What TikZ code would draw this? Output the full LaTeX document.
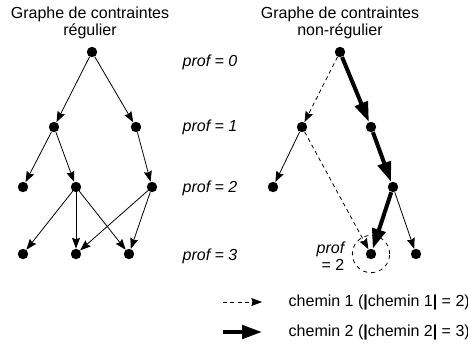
\documentclass[tikz,border=0pt]{standalone}
\usepackage{fontspec}
\setmainfont{Liberation Sans}
\usetikzlibrary{arrows.meta}
\definecolor{ink}{HTML}{000000}
\tikzset{
  vertex/.style={circle,fill=ink,minimum size=7.8pt,inner sep=0pt},
  edge/.style={-{Stealth[length=8pt,width=6pt,inset=1pt]},draw=ink,line width=.6pt},
  pathone/.style={edge,dash pattern=on 3pt off 2.5pt},
  pathtwo/.style={-{Triangle[length=15pt,width=10pt]},draw=ink,line width=3pt},
  title/.style={font=\fontsize{12}{13}\selectfont,align=center},
  depth/.style={font=\fontsize{12}{13}\selectfont\itshape},
  legend/.style={font=\fontsize{12}{14}\selectfont,anchor=west},
}

\begin{document}
\begin{tikzpicture}[x=0.75pt,y=-0.75pt]
\useasboundingbox (0,0) rectangle (468,344);
\node[title] (ttl) at (90,23) {Graphe de contraintes\\régulier};
\node[title] (ttr) at (340,23) {Graphe de contraintes\\non-régulier};
% regular graph
\node[vertex] (r) at (92,52) {};
\node[vertex] (a1) at (54,127) {};
\node[vertex] (a2) at (136,127) {};
\node[vertex] (b1) at (23,187) {};
\node[vertex] (b2) at (76,187) {};
\node[vertex] (b3) at (152,187) {};
\node[vertex] (c1) at (23,254) {};
\node[vertex] (c2) at (76,254) {};
\node[vertex] (c3) at (129,254) {};
\draw[edge] (r) -- (a1); \draw[edge] (r) -- (a2);
\draw[edge] (a1) -- (b1); \draw[edge] (a1) -- (b2); \draw[edge] (a2) -- (b3);
\draw[edge] (b2) -- (c1); \draw[edge] (b2) -- (c2); \draw[edge] (b2) -- (c3);
\draw[edge] (b3) -- (c2); \draw[edge] (b3) -- (c3);
% depth levels
\node[depth] (p0) at (210,62) {prof = 0};
\node[depth] (p1) at (210,127) {prof = 1};
\node[depth] (p2) at (210,188) {prof = 2};
\node[depth] (p3) at (210,256) {prof = 3};
% irregular graph
\node[vertex] (s) at (340,52) {};
\node[vertex] (u1) at (302,127) {};
\node[vertex] (u2) at (371,127) {};
\node[vertex] (v1) at (273,187) {};
\node[vertex] (v2) at (393,187) {};
\node[vertex] (w1) at (371,254) {};
\node[vertex] (w2) at (416,254) {};
\draw[pathone] (s) -- (u1); \draw[pathone] (u1) -- (w1);
\draw[pathtwo] (s) -- (u2); \draw[pathtwo] (u2) -- (v2); \draw[pathtwo] (v2) -- (w1);
\draw[edge] (u1) -- (v1); \draw[edge] (v2) -- (w2);
\node[circle,draw=ink,dashed,line width=.6pt,minimum size=28pt,inner sep=0pt] (ring) at (w1) {};
\node[depth,align=right,anchor=east] (note) at (349,256) {prof\\\upshape = 2};
% legend
\coordinate (la) at (223,302); \coordinate (lb) at (262,302);
\coordinate (lc) at (223,332); \coordinate (ld) at (262,332);
\draw[pathone] (la) -- (lb);
\draw[pathtwo] (lc) -- (ld);
\node[legend] (t1) at (284,302) {chemin 1 (\textbf{|}chemin 1\textbf{|} = 2)};
\node[legend] (t2) at (284,332) {chemin 2 (\textbf{|}chemin 2\textbf{|} = 3)};
\end{tikzpicture}
\end{document}
